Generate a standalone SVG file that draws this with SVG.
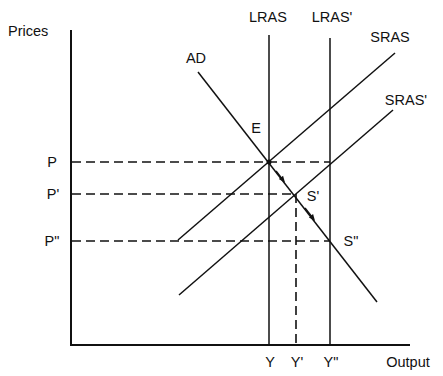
<svg xmlns="http://www.w3.org/2000/svg" width="443" height="376" viewBox="0 0 443 376">
<style>
text{font-family:"Liberation Sans",Arial,sans-serif;font-size:14.5px;fill:#111}
.ax{stroke:#111;stroke-width:2;fill:none}
.ln{stroke:#111;stroke-width:1.5;fill:none}
.ds{stroke:#111;stroke-width:1.6;stroke-dasharray:9,5;fill:none}
</style>
<defs>
<marker id="ah" viewBox="0 0 10 10" refX="5" refY="5" markerWidth="4.5" markerHeight="4.5" orient="auto">
<path d="M0,1 L10,5 L0,9 z" fill="#111"/>
</marker>
</defs>
<rect width="443" height="376" fill="#fff"/>
<g id="connectors">
<path class="ax" d="M71,30 V345 H410"/>
<line class="ln" x1="269" y1="35" x2="269" y2="345"/>
<line class="ln" x1="330" y1="38" x2="330" y2="345"/>
<line class="ds" x1="72" y1="162" x2="330" y2="162"/>
<line class="ds" x1="72" y1="194" x2="295" y2="194"/>
<line class="ds" x1="72" y1="241" x2="330" y2="241"/>
<line class="ds" x1="296" y1="194" x2="296" y2="345"/>
<line class="ln" x1="198" y1="72" x2="377" y2="302"/>
<line class="ln" x1="178" y1="240" x2="395" y2="53"/>
<line class="ln" x1="179" y1="295" x2="393" y2="110"/>
<line class="ln" x1="276" y1="171" x2="283" y2="180" marker-end="url(#ah)"/>
<line class="ln" x1="305" y1="208" x2="313" y2="218.3" marker-end="url(#ah)"/>
<circle cx="269" cy="162" r="2.5" fill="#111"/>
</g>
<g id="labels">
<text x="8" y="36">Prices</text>
<text x="268" y="22" text-anchor="middle">LRAS</text>
<text x="332" y="22" text-anchor="middle">LRAS'</text>
<text x="390" y="42" text-anchor="middle">SRAS</text>
<text x="406" y="105" text-anchor="middle">SRAS'</text>
<text x="196" y="63" text-anchor="middle">AD</text>
<text x="256" y="133" text-anchor="middle">E</text>
<text x="313" y="201" text-anchor="middle">S'</text>
<text x="351" y="246" text-anchor="middle">S"</text>
<text x="52" y="167" text-anchor="middle">P</text>
<text x="53" y="199" text-anchor="middle">P'</text>
<text x="52" y="246" text-anchor="middle">P"</text>
<text x="270" y="367" text-anchor="middle">Y</text>
<text x="297" y="367" text-anchor="middle">Y'</text>
<text x="331" y="367" text-anchor="middle">Y"</text>
<text x="408" y="367" text-anchor="middle">Output</text>
</g>
</svg>
